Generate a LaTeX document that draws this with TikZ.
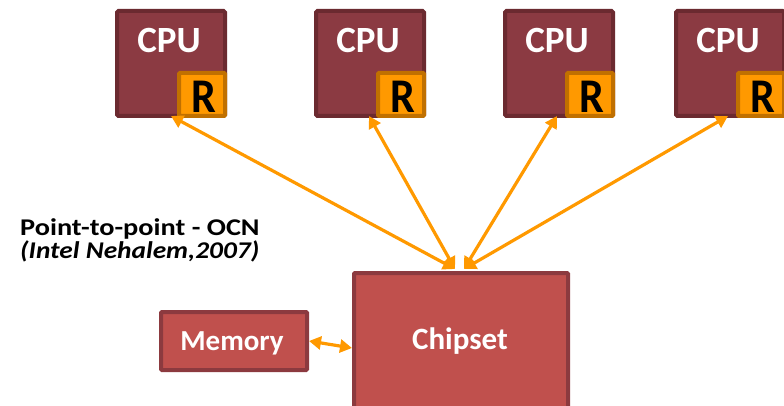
\documentclass[tikz,border=0pt]{standalone}
\usepackage{fontspec}
\setmainfont{Carlito}
\usetikzlibrary{arrows.meta}
\definecolor{cpufill}{HTML}{8B3A42}
\definecolor{cpuline}{HTML}{6B2A30}
\definecolor{chipfill}{HTML}{C0504D}
\definecolor{chipline}{HTML}{8C3A3F}
\definecolor{orng}{HTML}{FF9900}
\definecolor{orngline}{HTML}{C07000}
\tikzset{
  cpubox/.style={draw=cpuline, fill=cpufill, line width=4pt, rounded corners=1.5pt, minimum width=108pt, minimum height=105pt, inner sep=0pt, anchor=north west},
  rbox/.style={draw=orngline, fill=orng, line width=4pt, rounded corners=1pt, minimum width=46pt, minimum height=43pt, inner sep=0pt, anchor=south east},
  rtext/.style={font=\bfseries\fontsize{44}{44}\selectfont, anchor=base, inner sep=0pt},
  cputext/.style={text=white, font=\bfseries\fontsize{37}{37}\selectfont, anchor=base, inner sep=0pt},
  chipbox/.style={draw=chipline, fill=chipfill, line width=4pt, rounded corners=1pt, inner sep=0pt},
  boxtext/.style={text=white, anchor=base, inner sep=0pt},
  link/.style={draw=orng, line width=3.2pt, {Triangle[length=12pt,width=13pt]}-{Triangle[length=12pt,width=13pt]}},
}
\begin{document}
\begin{tikzpicture}[x=1pt,y=-1pt]
\useasboundingbox (0,0) rectangle (784,406);
% CPUs
\foreach \n/\x in {1/115,2/314,3/503,4/674}{
  \node[cpubox] (cpu\n) at (\x,9) {};
  \node[rbox] (r\n) at (cpu\n.south east) {};
  \node[rtext] (rt\n) at ([xshift=1.5pt,yshift=5pt]r\n.south) {\scalebox{1}[1.1]{R}};
  \node[cputext] (ct\n) at (\x+54,53) {CPU};
}
% Chipset and memory
\node[chipbox, minimum width=214pt, minimum height=150pt, anchor=north west] (chip) at (352,271) {};
\node[boxtext, font=\bfseries\fontsize{31}{31}\selectfont] (chipt) at (460,349) {Chipset};
\node[chipbox, minimum width=146pt, minimum height=58pt, anchor=north west] (mem) at (159,310) {};
\node[boxtext, font=\bfseries\fontsize{29}{29}\selectfont] (memt) at (232,350) {Memory};
% labels
\node[anchor=base west, inner sep=0pt, font=\bfseries\fontsize{24}{24}\selectfont] (t1) at (20,236) {\scalebox{1.18}[1]{Point-to-point - OCN}};
\node[anchor=base west, inner sep=0pt, font=\bfseries\itshape\fontsize{24}{24}\selectfont] (t2) at (20,258) {\scalebox{1.14}[1]{(Intel Nehalem,2007)}};
% links
\coordinate (cl) at (455,269);
\coordinate (cr) at (464,269);
\coordinate (e1) at (171,116);
\coordinate (e2) at (369,116);
\coordinate (e3) at (557,116);
\coordinate (e4) at (728,116);
\draw[link] (e1) -- (cl);
\draw[link] (e2) -- (cl);
\draw[link] (e3) -- (cr);
\draw[link] (e4) -- (cr);
\draw[link] (mem.east) -- (chip.west);
\end{tikzpicture}
\end{document}
